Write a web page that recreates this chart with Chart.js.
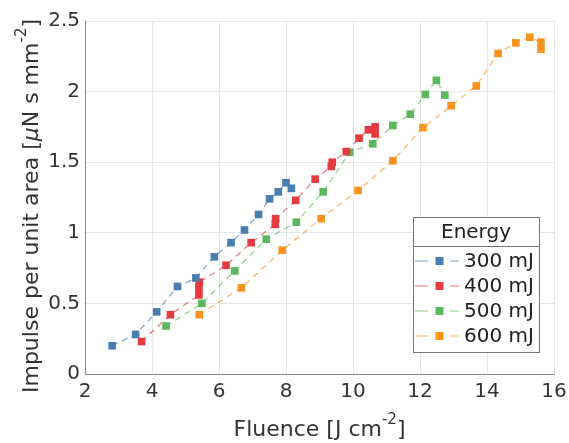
<!DOCTYPE html>
<html>
<head>
<meta charset="utf-8">
<script src="https://cdn.jsdelivr.net/npm/chart.js@4"></script>
<style>
  html, body { margin: 0; padding: 0; background: #fff; }
  #wrap { width: 569px; height: 443px; }
</style>
</head>
<body>
<div id="wrap"><canvas id="c" width="569" height="443"></canvas></div>
<script>
// fluence [J cm^-2] / impulse per unit area
const fluence300 = [2.81, 3.51, 4.14, 4.76, 5.31, 5.86, 6.36, 6.76, 7.18, 7.51, 7.77, 8.00, 8.16];
const impulse300 = [0.20, 0.28, 0.44, 0.62, 0.68, 0.83, 0.93, 1.02, 1.13, 1.24, 1.29, 1.355, 1.315];

const fluence400 = [3.69, 4.55, 5.40, 5.40, 5.41, 6.21, 6.96, 7.68, 7.69, 8.29, 8.87, 9.35, 9.38, 9.80, 10.18, 10.46, 10.66, 10.66];
const impulse400 = [0.23, 0.42, 0.56, 0.61, 0.65, 0.77, 0.93, 1.06, 1.10, 1.23, 1.38, 1.47, 1.50, 1.575, 1.67, 1.73, 1.75, 1.70];

const fluence500 = [4.42, 5.49, 6.47, 7.41, 8.31, 9.11, 9.90, 10.59, 11.19, 11.71, 12.16, 12.49, 12.74];
const impulse500 = [0.34, 0.50, 0.73, 0.955, 1.075, 1.29, 1.57, 1.63, 1.76, 1.84, 1.98, 2.08, 1.975];

const fluence600 = [5.41, 6.67, 7.89, 9.05, 10.15, 11.19, 12.09, 12.93, 13.68, 14.33, 14.86, 15.28, 15.61, 15.61];
const impulse600 = [0.42, 0.61, 0.877, 1.10, 1.30, 1.51, 1.745, 1.90, 2.04, 2.27, 2.345, 2.385, 2.35, 2.30];

const seriesLabels = ['300 mJ', '400 mJ', '500 mJ', '600 mJ'];
const seriesColors = ['#4a7db0', '#e53a40', '#5cb85c', '#f7931e'];
const xTicks = [2, 4, 6, 8, 10, 12, 14, 16];
const yTicks = [0, 0.5, 1, 1.5, 2, 2.5];

const legendTitle = 'Energy';
// axis titles as runs so the exponent can be raised
const xTitle = [{ t: 'Fluence [J cm' }, { t: '-2', sup: true }, { t: ']' }];
const yTitle = [{ t: 'Impulse per unit area [' }, { t: 'μ', it: true }, { t: 'N s mm' }, { t: '-2', sup: true }, { t: ']' }];

const FONT = "'DejaVu Sans', sans-serif";
const TEXT = '#333';

function pts(xs, ys) {
    return xs.map((x, i) => ({ x: x, y: ys[i] }));
}

function fade(hex, a) {
    const n = parseInt(hex.slice(1), 16);
    return `rgba(${(n >> 16) & 255},${(n >> 8) & 255},${n & 255},${a})`;
}

const allData = [
    pts(fluence300, impulse300),
    pts(fluence400, impulse400),
    pts(fluence500, impulse500),
    pts(fluence600, impulse600),
];

const datasets = allData.map((d, i) => ({
    label: seriesLabels[i],
    data: d,
    borderColor: fade(seriesColors[i], 0.7),
    backgroundColor: seriesColors[i],
    pointBackgroundColor: seriesColors[i],
    pointBorderWidth: 0,
    pointStyle: 'rect',
    pointRadius: 5.4,
    borderWidth: 1.2,
    borderDash: [6, 5],
    showLine: true,
    tension: 0,
}));

function runFont(r, size) {
    const s = r.sup ? Math.round(size * 0.68) : size;
    return `${r.it ? 'italic ' : ''}${s}px ${FONT}`;
}

// draws a line of runs centred on (0,0) of the current transform
function drawRuns(ctx, runs, size) {
    let total = 0;
    runs.forEach(r => { ctx.font = runFont(r, size); total += ctx.measureText(r.t).width; });
    let x = -total / 2;
    ctx.textAlign = 'left';
    ctx.textBaseline = 'alphabetic';
    runs.forEach(r => {
        ctx.font = runFont(r, size);
        ctx.fillText(r.t, x, r.sup ? -size * 0.55 : 0);
        x += ctx.measureText(r.t).width;
    });
}

const axisTitles = {
    id: 'axisTitles',
    afterDraw(chart) {
        const ctx = chart.ctx;
        const a = chart.chartArea;
        ctx.save();
        ctx.fillStyle = TEXT;
        ctx.translate((a.left + a.right) / 2, 436);
        drawRuns(ctx, xTitle, 22);
        ctx.restore();

        ctx.save();
        ctx.fillStyle = TEXT;
        ctx.translate(38, 206);
        ctx.rotate(-Math.PI / 2);
        drawRuns(ctx, yTitle, 22);
        ctx.restore();
    }
};

// boxed legend with title, drawn inside the plot area
const boxLegend = {
    id: 'boxLegend',
    afterDraw(chart) {
        const ctx = chart.ctx;
        const a = chart.chartArea;
        const w = 126, h = 135;
        const left = Math.round(a.right - 141), top = Math.round(a.top + 196);
        ctx.save();
        ctx.fillStyle = '#fff';
        ctx.fillRect(left, top, w, h);
        ctx.strokeStyle = '#777';
        ctx.lineWidth = 1;
        ctx.strokeRect(left + 0.5, top + 0.5, w, h);
        ctx.beginPath();
        ctx.moveTo(left, top + 29.5);
        ctx.lineTo(left + w, top + 29.5);
        ctx.stroke();

        ctx.fillStyle = '#222';
        ctx.font = `20px ${FONT}`;
        ctx.textAlign = 'center';
        ctx.textBaseline = 'middle';
        ctx.fillText(legendTitle, left + w / 2, top + 16);

        ctx.textAlign = 'left';
        chart.data.datasets.forEach((ds, i) => {
            const y = top + 44 + i * 25;
            const x0 = left + 2;
            ctx.strokeStyle = fade(seriesColors[i], 0.7);
            ctx.lineWidth = 1.2;
            ctx.beginPath();
            ctx.moveTo(x0, y); ctx.lineTo(x0 + 13, y);
            ctx.moveTo(x0 + 35, y); ctx.lineTo(x0 + 44, y);
            ctx.stroke();
            ctx.fillStyle = seriesColors[i];
            ctx.fillRect(x0 + 20.5, y - 4, 8, 8);
            ctx.fillStyle = '#222';
            ctx.fillText(ds.label, x0 + 49, y + 1);
        });
        ctx.restore();
    }
};

new Chart(document.getElementById('c').getContext('2d'), {
    type: 'scatter',
    data: { datasets },
    plugins: [boxLegend, axisTitles],
    options: {
        responsive: false,
        animation: false,
        layout: { padding: { left: 0, right: 15, top: 21, bottom: 0 } },
        plugins: {
            legend: { display: false },
            tooltip: { enabled: false },
        },
        scales: {
            x: {
                type: 'linear',
                min: 2,
                max: 16,
                afterBuildTicks: (axis) => { axis.ticks = xTicks.map(v => ({ value: v })); },
                afterFit: (axis) => {
                    axis.height = 69;
                    axis.paddingLeft = 0;
                    axis.paddingRight = 0;
                },
                ticks: {
                    color: TEXT,
                    font: { size: 20, family: FONT },
                    padding: 6,
                    maxRotation: 0,
                    callback: v => String(v),
                },
                grid: { color: '#e6e6e6', lineWidth: 1, drawTicks: false },
                border: { color: '#888', width: 1 },
            },
            y: {
                type: 'linear',
                min: 0,
                max: 2.5,
                afterBuildTicks: (axis) => { axis.ticks = yTicks.map(v => ({ value: v })); },
                afterFit: (axis) => {
                    axis.width = 85;
                    axis.paddingTop = 0;
                    axis.paddingBottom = 0;
                },
                ticks: {
                    color: TEXT,
                    font: { size: 20, family: FONT },
                    padding: 5,
                    callback: v => String(v),
                },
                grid: { color: '#e6e6e6', lineWidth: 1, drawTicks: false },
                border: { color: '#888', width: 1 },
            },
        },
    },
});
</script>
</body>
</html>
